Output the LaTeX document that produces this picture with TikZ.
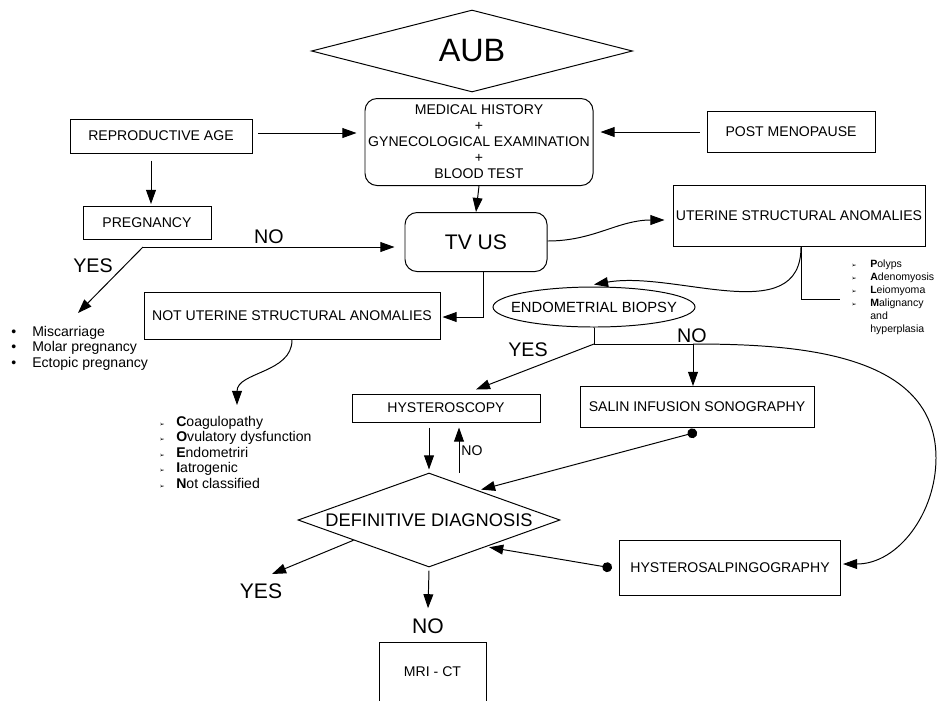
\documentclass[tikz,border=0pt]{standalone}
\usepackage{fontspec}
\setmainfont{Liberation Sans}
\newfontfamily\dingfont{DejaVu Sans}
\usetikzlibrary{shapes.geometric,arrows.meta}

% one pixel of the layout
\newdimen\pxu \pxu=0.025cm
\newcommand{\arrbul}{{\dingfont\fontsize{4.5}{5}\selectfont ➢}}
\newcommand{\nowidth}[1]{\makebox[0pt]{#1}}

\tikzset{
  box/.style={draw, line width=0.7pt, font=\fontsize{10}{11.4}\selectfont, align=center, inner sep=0pt},
  rbox/.style={box, rounded corners=12\pxu},
  lbl/.style={font=\fontsize{14}{14}\selectfont, inner sep=0pt},
  biglbl/.style={font=\fontsize{15}{15}\selectfont, inner sep=0pt},
  listtext/.style={anchor=north west, align=left, inner sep=0pt, font=\fontsize{10}{11}\selectfont},
  line/.style={line width=0.7pt},
  arr/.style={line width=0.7pt, -{Triangle[length=10pt,width=7pt]}},
  dotarr/.style={line width=0.7pt, {Circle[length=7pt]}-{Triangle[length=10pt,width=7pt]}},
}

\begin{document}
\begin{tikzpicture}[x=0.025cm, y=-0.025cm]
    \useasboundingbox (0,0) rectangle (939,700);

    % Top
    \node[diamond, draw, line width=0.7pt, inner sep=0pt, minimum width=321\pxu, minimum height=82\pxu,
          font=\fontsize{23}{23}\selectfont] (aub) at (472,51) {\nowidth{AUB}};
    \node[rbox, minimum width=228\pxu, minimum height=87\pxu] (medhist) at (479,142)
      {MEDICAL HISTORY\\+\\GYNECOLOGICAL EXAMINATION\\+\\BLOOD TEST};
    \node[box, minimum width=182\pxu, minimum height=34\pxu] (repro) at (161,136) {REPRODUCTIVE AGE};
    \node[box, minimum width=168\pxu, minimum height=41\pxu] (postmeno) at (791,132) {POST MENOPAUSE};
    \node[box, minimum width=128\pxu, minimum height=33\pxu] (preg) at (147,223) {PREGNANCY};
    \node[rbox, minimum width=142\pxu, minimum height=59\pxu, font=\fontsize{15}{15}\selectfont] (tvus) at (476,242) {TV US};

    % Middle
    \node[box, minimum width=252\pxu, minimum height=61\pxu] (uterine) at (799,216) {UTERINE STRUCTURAL ANOMALIES};
    \node[box, minimum width=296\pxu, minimum height=47\pxu] (notuter) at (292,316) {NOT UTERINE STRUCTURAL ANOMALIES};
    \node[ellipse, draw, line width=0.7pt, inner sep=0pt, minimum width=202\pxu, minimum height=40\pxu,
          font=\fontsize{10.5}{11}\selectfont] (biopsy) at (594,307) {\nowidth{ENDOMETRIAL BIOPSY}};
    \node[box, minimum width=188\pxu, minimum height=28\pxu] (hyst) at (446,408) {HYSTEROSCOPY};
    \node[box, minimum width=234\pxu, minimum height=41\pxu] (sis) at (697,407) {SALIN INFUSION SONOGRAPHY};

    % Bottom
    \node[diamond, draw, line width=0.7pt, inner sep=0pt, minimum width=262\pxu, minimum height=94\pxu,
          font=\fontsize{13}{13}\selectfont] (diag) at (429,520) {\nowidth{DEFINITIVE DIAGNOSIS}};
    \node[box, minimum width=221\pxu, minimum height=55\pxu] (hsg) at (730,568) {HYSTEROSALPINGOGRAPHY};
    \node[box, minimum width=107\pxu, minimum height=66\pxu, text depth=0pt] (mri) at (432.5,675) {\raisebox{6\pxu}{MRI - CT}};

    % Lists
    \node[listtext] (preglist) at (11,326)
      {\makebox[21\pxu][l]{•}Miscarriage\\
       \makebox[21\pxu][l]{•}Molar pregnancy\\
       \makebox[21\pxu][l]{•}Ectopic pregnancy};
    \node[listtext] (coeinlist) at (159,416)
      {\makebox[17\pxu][l]{\arrbul}\textbf{C}oagulopathy\\
       \makebox[17\pxu][l]{\arrbul}\textbf{O}vulatory dysfunction\\
       \makebox[17\pxu][l]{\arrbul}\textbf{E}ndometriri\\
       \makebox[17\pxu][l]{\arrbul}\textbf{I}atrogenic\\
       \makebox[17\pxu][l]{\arrbul}\textbf{N}ot classified};
    \node[listtext, font=\fontsize{7.5}{9.25}\selectfont] (palmlist) at (851,260)
      {\makebox[19\pxu][l]{\arrbul}\textbf{P}olyps\\
       \makebox[19\pxu][l]{\arrbul}\textbf{A}denomyosis\\
       \makebox[19\pxu][l]{\arrbul}\textbf{L}eiomyoma\\
       \makebox[19\pxu][l]{\arrbul}\textbf{M}alignancy\\
       \hspace*{19\pxu}and\\
       \hspace*{19\pxu}hyperplasia};

    % YES / NO
    \node[lbl] (pregno) at (269,237) {NO};
    \node[lbl] (pregyes) at (93,266) {YES};
    \node[lbl] (biopsyyes) at (528,350) {YES};
    \node[lbl] (biopsyno) at (692,336) {NO};
    \node[font=\fontsize{10}{10}\selectfont, inner sep=0pt] (hystno) at (472,451) {NO};
    \node[biglbl] (diagyes) at (261,591) {YES};
    \node[biglbl] (diagno) at (428,626) {NO};

    \coordinate (pregsplit) at (143,247);
    \coordinate (pregtip) at (78,313);
    \coordinate (coeintip) at (237,405);
    \coordinate (palmtick) at (840,299);
    \coordinate (biopsysplit) at (594,344);
    \coordinate (nosplit) at (693,344);
    \coordinate (loopright) at (936,458);
    \coordinate (yestip) at (272,574);

    % Arrows
    \draw[arr] ([xshift=6\pxu,yshift=3\pxu]repro.east) -- ([xshift=-8\pxu,yshift=3\pxu]repro.east -| medhist.west);
    \draw[arr] ([xshift=-7\pxu]postmeno.west) -- ([xshift=7\pxu]postmeno.west -| medhist.east);
    \draw[arr] ([xshift=-10\pxu,yshift=-7\pxu]repro.south) -- ([xshift=-10\pxu,yshift=2\pxu]repro.south |- preg.north);
    \draw[arr] (medhist.south) -- (tvus.north);
    \draw[arr] (pregsplit) -- ([xshift=-10\pxu]pregsplit -| tvus.west);
    \draw[arr] (pregsplit) -- (pregtip);
    \draw[arr] ([yshift=1\pxu]tvus.east) to[out=0,in=180] ([xshift=-8\pxu,yshift=-4\pxu]uterine.west);
    \draw[arr] ([xshift=7\pxu]tvus.south) |- ([xshift=2\pxu,yshift=-1\pxu]notuter.east);
    \draw[arr] (notuter.south) to[out=-90,in=90] (coeintip);
    \draw[arr] ([xshift=2\pxu]uterine.south) to[out=-90,in=10] ([yshift=2\pxu]biopsy.north);
    \draw[line] ([xshift=2\pxu]uterine.south) |- (palmtick);

    \draw[line] (biopsy.south) -- (biopsysplit) -- (nosplit);
    \draw[arr] (biopsysplit) -- ([xshift=30\pxu,yshift=4\pxu]hyst.north);
    \draw[arr] (nosplit) -- (nosplit |- sis.north);
    \draw[arr] (nosplit) to[out=0,in=90] (loopright) to[out=-90,in=0] ([xshift=2\pxu,yshift=4\pxu]hsg.east);

    \draw[dotarr, shorten >=2pt] ([yshift=-4\pxu]sis.south) -- (diag.31);
    \draw[dotarr, shorten >=2pt] ([xshift=-7\pxu]hsg.west) -- (diag.-25);
    \draw[arr] ([yshift=-5\pxu]hyst.south -| diag.north) -- ([yshift=3\pxu]diag.north);
    \draw[arr] ([xshift=30\pxu]diag.north) -- ([xshift=30\pxu,yshift=-5\pxu]diag.north |- hyst.south);
    \draw[arr] (diag.195) -- (yestip);
    \draw[arr] ([yshift=-3\pxu]diag.south) -- ([yshift=10\pxu]diagno.north);
\end{tikzpicture}
\end{document}
